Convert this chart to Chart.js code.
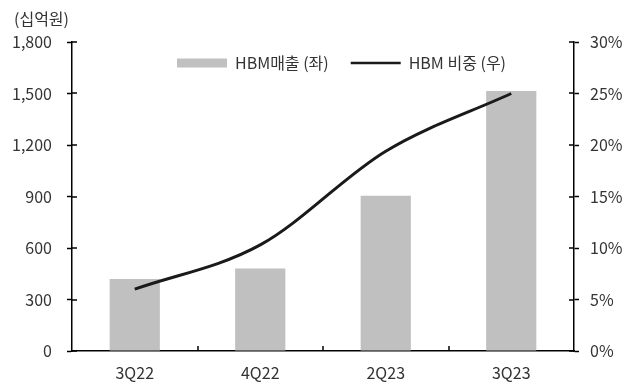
<!DOCTYPE html>
<html>
<head>
<meta charset="utf-8">
<script src="https://cdn.jsdelivr.net/npm/chart.js@4"></script>
<style>
  html, body { margin: 0; padding: 0; background: #fff; }
  #wrap { width: 636px; height: 385px; }
</style>
</head>
<body>
<div id="wrap"><canvas id="hbm-chart"></canvas></div>
<script>

    // Data

    var quarters = ['3Q22', '4Q22', '2Q23', '3Q23'];
    var hbmSales = [420, 480, 905, 1515];      // 십억원, left axis
    var hbmShare = [6.0, 10.3, 19.4, 25.0];    // %, right axis
    var salesTicks = [0, 300, 600, 900, 1200, 1500, 1800];
    var shareTicks = [0, 5, 10, 15, 20, 25, 30];

    var fontFamily = "'Noto Sans CJK KR', 'Noto Sans', sans-serif";
    var textColor = '#333333';
    var legendPad = 22;

    // Move the top legend down into the plot area

    var legendInside = {
        id: 'legendInside',
        afterLayout: function (chart) {
            var lg = chart.legend;
            var area = chart.chartArea;
            var h = lg.height;
            lg.top = area.top + 21 - legendPad - 8;
            lg.bottom = lg.top + h;
            lg.left = area.left + 105 - legendPad;
        }
    };

    // Small inward tick marks + unit label

    var innerTicks = {
        id: 'innerTicks',
        afterDraw: function (chart) {
            var ctx = chart.ctx;
            var area = chart.chartArea;
            var yL = chart.scales.y;
            var yR = chart.scales.y1;
            var x = chart.scales.x;

            ctx.save();
            ctx.strokeStyle = '#000';
            ctx.lineWidth = 1.5;
            ctx.beginPath();
            yL.ticks.forEach(function (t) {
                var py = Math.round(yL.getPixelForValue(t.value));
                ctx.moveTo(area.left, py);
                ctx.lineTo(area.left + 5, py);
            });
            yR.ticks.forEach(function (t) {
                var py = Math.round(yR.getPixelForValue(t.value));
                ctx.moveTo(area.right - 5, py);
                ctx.lineTo(area.right, py);
            });
            for (var i = 1; i < quarters.length; i++) {
                var px = Math.round((x.getPixelForTick(i - 1) + x.getPixelForTick(i)) / 2);
                ctx.moveTo(px, area.bottom);
                ctx.lineTo(px, area.bottom - 5);
            }
            ctx.stroke();

            ctx.fillStyle = textColor;
            ctx.font = '16px ' + fontFamily;
            ctx.textBaseline = 'middle';
            ctx.textAlign = 'left';
            ctx.fillText('(십억원)', area.left - 58, area.top - 23);
            ctx.restore();
        }
    };

    var chart = new Chart(document.getElementById('hbm-chart'), {
        type: 'bar',
        data: {
            labels: quarters,
            datasets: [{
                type: 'line',
                label: 'HBM 비중 (우)',
                data: hbmShare,
                yAxisID: 'y1',
                borderColor: '#1a1a1a',
                borderWidth: 3,
                pointRadius: 0,
                cubicInterpolationMode: 'monotone',
                fill: false,
                order: 0
            }, {
                type: 'bar',
                label: 'HBM매출 (좌)',
                data: hbmSales,
                yAxisID: 'y',
                backgroundColor: '#c0c0c0',
                borderWidth: 0,
                barPercentage: 0.4,
                categoryPercentage: 1.0,
                order: 1
            }]
        },
        options: {
            responsive: true,
            maintainAspectRatio: false,
            animation: false,
            layout: {
                // the legend's own height is taken back so the plot top sits at 42
                padding: { top: -6, left: 0, right: 0, bottom: 0 }
            },
            plugins: {
                legend: {
                    position: 'top',
                    fullSize: false,
                    align: 'start',
                    reverse: true,
                    labels: {
                        color: textColor,
                        font: { family: fontFamily, size: 16 },
                        usePointStyle: true,
                        pointStyleWidth: 50,
                        boxHeight: 9,
                        padding: legendPad,
                        generateLabels: function (chart) {
                            var items = Chart.defaults.plugins.legend.labels.generateLabels(chart);
                            items.forEach(function (it) {
                                if (it.datasetIndex === 1) {
                                    it.pointStyle = 'rect';
                                    it.fillStyle = '#c0c0c0';
                                    it.strokeStyle = '#c0c0c0';
                                    it.lineWidth = 0;
                                } else {
                                    it.pointStyle = 'line';
                                    it.strokeStyle = '#1a1a1a';
                                    it.lineWidth = 2.5;
                                }
                            });
                            return items;
                        }
                    }
                },
                tooltip: { enabled: false }
            },
            scales: {
                x: {
                    grid: { display: false },
                    border: { color: '#000', width: 1.5 },
                    ticks: {
                        color: textColor,
                        font: { family: fontFamily, size: 16 },
                        padding: 4
                    },
                    afterFit: function (scale) { scale.height = 34; }
                },
                y: {
                    position: 'left',
                    min: 0,
                    max: salesTicks[salesTicks.length - 1],
                    afterBuildTicks: function (scale) {
                        scale.ticks = salesTicks.map(function (v) { return { value: v }; });
                    },
                    grid: { drawOnChartArea: false, tickLength: 5, color: '#000', tickWidth: 1.5 },
                    border: { color: '#000', width: 1.5 },
                    ticks: {
                        color: textColor,
                        font: { family: fontFamily, size: 16 },
                        padding: 15,
                        callback: function (v) { return v.toLocaleString('en-US'); }
                    },
                    afterFit: function (scale) { scale.width = 72; }
                },
                y1: {
                    position: 'right',
                    min: 0,
                    max: shareTicks[shareTicks.length - 1],
                    afterBuildTicks: function (scale) {
                        scale.ticks = shareTicks.map(function (v) { return { value: v }; });
                    },
                    grid: { drawOnChartArea: false, tickLength: 5, color: '#000', tickWidth: 1.5 },
                    border: { color: '#000', width: 1.5 },
                    ticks: {
                        color: textColor,
                        font: { family: fontFamily, size: 16 },
                        padding: 11,
                        callback: function (v) { return v + '%'; }
                    },
                    afterFit: function (scale) { scale.width = 62; }
                }
            }
        },
        plugins: [legendInside, innerTicks]
    });

</script>
</body>
</html>
